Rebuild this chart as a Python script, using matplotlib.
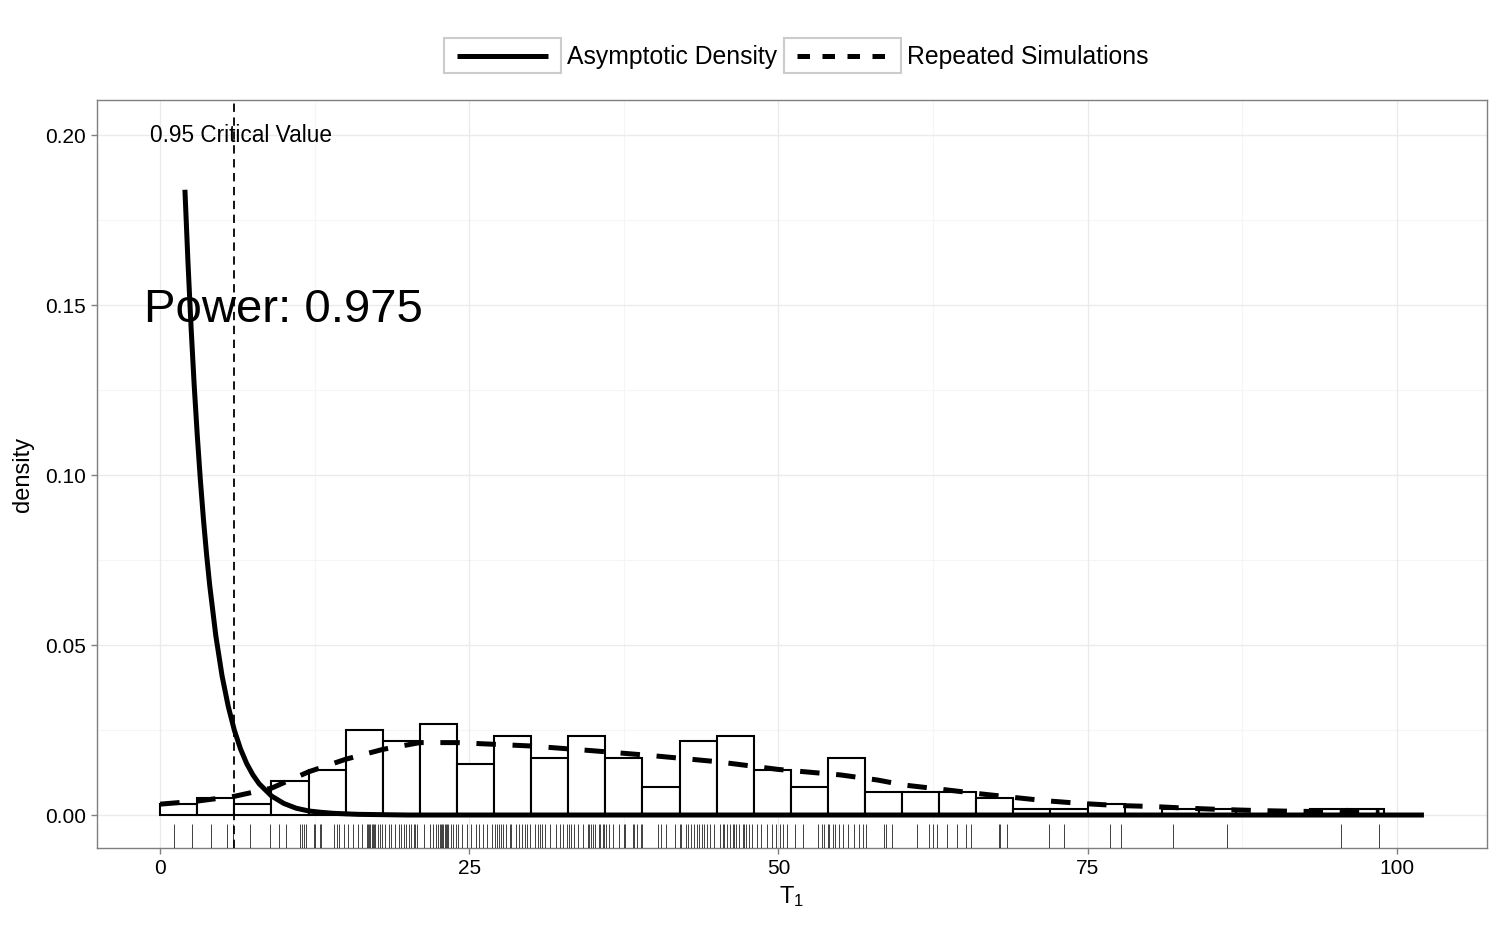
import matplotlib
matplotlib.use('Agg')
import matplotlib.pyplot as plt
from matplotlib.patches import Rectangle
from matplotlib.lines import Line2D
from matplotlib.ticker import FormatStrFormatter

plt.rcParams['font.family'] = ['Liberation Sans', 'DejaVu Sans']
plt.rcParams['mathtext.fontset'] = 'custom'
plt.rcParams['mathtext.rm'] = 'Liberation Sans'
plt.rcParams['mathtext.it'] = 'Liberation Sans:italic'
plt.rcParams['lines.scale_dashes'] = False

# ---- data ----
sim_values = [
    1.1, 2.6,
    4.1, 5.4, 5.9,
    7.3, 8.9,
    9.6, 10.2, 11.3, 11.45, 11.6, 11.8,
    12.4, 12.5, 12.9, 13.0, 14.05, 14.3, 14.5, 14.86,
    15.2, 15.6, 16.0, 16.3, 16.7, 16.8, 16.9, 17.0, 17.1, 17.2, 17.3, 17.4, 17.6, 17.8, 17.95,
    18.2, 18.5, 18.7, 19.0, 19.3, 19.5, 19.7, 19.9, 20.1, 20.3, 20.5, 20.6, 20.8,
    21.3, 21.8, 22.1, 22.3, 22.5, 22.6, 22.7, 22.8, 22.9, 23.0, 23.1, 23.2, 23.3, 23.5, 23.7, 23.9,
    24.1, 24.4, 24.8, 25.1, 25.5, 25.8, 26.1, 26.4, 26.8,
    27.06, 27.2, 27.4, 27.6, 27.7, 28.0, 28.3, 28.4, 28.8, 29.0, 29.3, 29.5, 29.7, 29.9,
    30.3, 30.56, 30.75, 30.9, 31.1, 31.5, 32.0, 32.3, 32.6, 32.9,
    33.06, 33.25, 33.5, 33.8, 34.2, 34.6, 34.7, 34.87, 35.0, 35.2, 35.5, 35.6, 35.8, 35.9,
    36.05, 36.3, 36.6, 37.1, 37.5, 37.6, 38.2, 38.3, 38.6, 38.9,
    39.0, 40.25, 40.5, 40.9, 41.6,
    42.0, 42.1, 42.5, 42.7, 42.96, 43.2, 43.4, 43.6, 43.8, 44.0, 44.2, 44.5, 44.8,
    45.3, 45.5, 45.6, 45.8, 46.1, 46.3, 46.4, 46.6, 46.8, 47.1, 47.2, 47.4, 47.6, 47.9,
    48.3, 48.6, 49.1, 49.5, 49.8, 50.1, 50.4, 50.7,
    51.3, 51.96, 53.2, 53.5, 53.7,
    54.0, 54.1, 54.4, 54.6, 54.9, 55.2, 55.6, 56.1, 56.5, 56.8,
    57.1, 58.5, 58.7, 59.2,
    61.2, 62.2, 62.5, 62.8,
    63.6, 64.4, 65.2, 65.6,
    67.8, 67.95, 68.5,
    71.9, 73.1, 76.85, 77.7, 81.9, 86.3, 95.5, 98.6,
]
bin_edges = list(range(0, 100, 3))

asym_x = [2, 2.25, 2.5, 2.75, 3, 3.25, 3.5, 3.75, 4, 4.5, 5, 5.5, 6, 6.5, 7, 7.5, 8, 9, 10, 11,
          12, 13, 14, 16, 18, 20, 25, 30, 50, 102.2]
asym_y = [0.1839, 0.1623, 0.1433, 0.1264, 0.1116, 0.0985, 0.0869, 0.0767, 0.0677, 0.0527,
          0.0410, 0.0320, 0.0249, 0.0194, 0.0151, 0.0118, 0.0092, 0.0056, 0.0034, 0.0020,
          0.0012, 0.0008, 0.0005, 0.0002, 0.0001, 0.0000, 0.0000, 0.0, 0.0, 0.0]

kde_x = [0, 3, 6, 9, 12, 15, 18, 21, 24, 27, 30, 35, 40, 45, 50, 55, 58, 60.2, 63.1, 65.9,
         68.7, 71.6, 74.5, 77.4, 80.3, 83.1, 86.0, 88.9, 91.7, 94.6, 97.5, 98.6]
kde_y = [0.0032, 0.0041, 0.0055, 0.0079, 0.0127, 0.0164, 0.0193, 0.0213, 0.0213, 0.0208,
         0.0203, 0.0189, 0.0174, 0.0157, 0.0134, 0.0118, 0.0103, 0.0088, 0.0076, 0.0064,
         0.0053, 0.0042, 0.0034, 0.0028, 0.0025, 0.0020, 0.0016, 0.0013, 0.0011, 0.0010,
         0.0008, 0.0007]

critical_value = 5.99
crit_label = "0.95 Critical Value"
power_label = "Power: 0.975"
x_ticks = [0, 25, 50, 75, 100]
y_ticks = [0.00, 0.05, 0.10, 0.15, 0.20]
legend_labels = ["Asymptotic Density", "Repeated Simulations"]

# ---- figure ----
W, H = 1500, 925
fig = plt.figure(figsize=(15, 9.25), dpi=100)
ax = fig.add_axes([97 / W, 1 - 848 / H, (1487 - 97) / W, (848 - 100) / H])

ax.set_xlim(-5.11, 107.3)
ax.set_ylim(-0.0097, 0.2103)

grid_major = '#EBEBEB'
grid_minor = '#F5F5F5'
for v in [12.5, 37.5, 62.5, 87.5]:
    ax.axvline(v, color=grid_minor, lw=0.8, zorder=0)
for v in [0.025, 0.075, 0.125, 0.175]:
    ax.axhline(v, color=grid_minor, lw=0.8, zorder=0)
for v in x_ticks:
    ax.axvline(v, color=grid_major, lw=1.0, zorder=0)
for v in y_ticks:
    ax.axhline(v, color=grid_major, lw=1.0, zorder=0)

# histogram
ax.hist(sim_values, bins=bin_edges, density=True, facecolor='white',
        edgecolor='black', linewidth=1.5, zorder=2)

# rug
ax.vlines(sim_values, 0, 0.032, transform=ax.get_xaxis_transform(),
          colors='black', linewidth=0.7, alpha=0.75, zorder=3)

# critical value line
ax.axvline(critical_value, color='black', lw=1.3, linestyle=(0, (6, 4)), zorder=4)

# densities
ax.plot(kde_x, kde_y, color='black', lw=3.6, linestyle=(0, (14, 12)),
        solid_capstyle='butt', dash_capstyle='butt', zorder=5)
ax.plot(asym_x, asym_y, color='black', lw=3.6, solid_capstyle='butt', zorder=6)

# annotations
ax.text(6.5, 0.2, crit_label, ha='center', va='center', fontsize=16.3, zorder=7)
ax.text(10.0, 0.1485, power_label, ha='center', va='center', fontsize=34, zorder=7)

# axes styling
for s in ax.spines.values():
    s.set_color('#7F7F7F')
    s.set_linewidth(1.0)
ax.set_xticks(x_ticks)
ax.set_yticks(y_ticks)
ax.yaxis.set_major_formatter(FormatStrFormatter('%.2f'))
ax.tick_params(axis='both', colors='#7F7F7F', length=4, width=1.0, labelsize=15,
               labelcolor='black', pad=4)
ax.set_xlabel('T$_1$', fontsize=17, labelpad=4)
ax.set_ylabel('density', fontsize=17, labelpad=8)

# ---- legend (drawn manually, ggplot style boxed keys) ----
def fx(px):
    return px / W

def fy(py):
    return 1 - py / H

key_boxes = [(444, 561), (784, 901)]
text_x = [567, 907]
for i, ((x0, x1), label) in enumerate(zip(key_boxes, legend_labels)):
    fig.patches.append(Rectangle((fx(x0), fy(73)), fx(x1) - fx(x0), fy(38) - fy(73),
                                 transform=fig.transFigure, facecolor='white',
                                 edgecolor='#CCCCCC', lw=1.5))
    ls = '-' if i == 0 else (0, (9, 9))
    fig.lines.append(Line2D([fx(x0 + 13), fx(x1 - 13)], [fy(56), fy(56)],
                            transform=fig.transFigure, color='black', lw=3.6,
                            linestyle=ls, solid_capstyle='butt', dash_capstyle='butt'))
    fig.text(fx(text_x[i]), fy(57), label, ha='left', va='center', fontsize=17.8)

fig.savefig('out.png', dpi=100)
